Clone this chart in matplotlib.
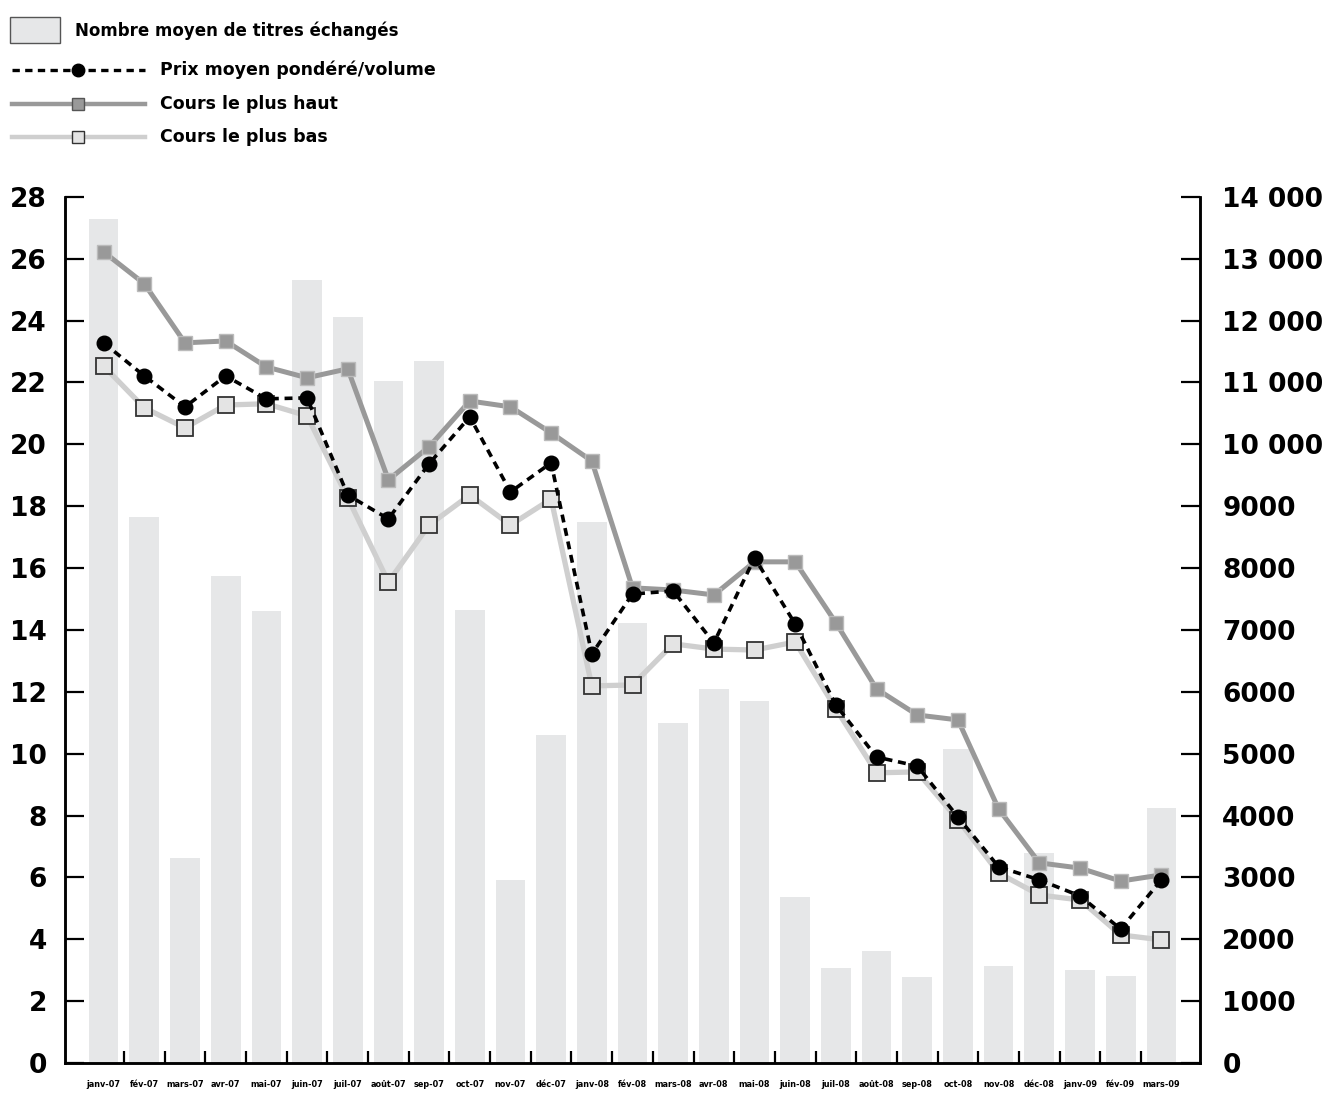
import matplotlib
matplotlib.use("Agg")
import matplotlib.pyplot as plt
from matplotlib.patches import Rectangle
from matplotlib.lines import Line2D

plt.rcParams["font.family"] = ["DejaVu Sans"]

months = ["janv-07", "fév-07", "mars-07", "avr-07", "mai-07", "juin-07", "juil-07",
          "août-07", "sep-07", "oct-07", "nov-07", "déc-07", "janv-08", "fév-08",
          "mars-08", "avr-08", "mai-08", "juin-08", "juil-08", "août-08", "sep-08",
          "oct-08", "nov-08", "déc-08", "janv-09", "fév-09", "mars-09"]

# average number of shares traded (right axis)
volume = [13640, 8830, 3310, 7870, 7310, 12660, 12060, 11020, 11350, 7320, 2960,
          5300, 8750, 7110, 5500, 6050, 5850, 2680, 1540, 1810, 1390, 5080, 1570,
          3390, 1500, 1410, 4120]

# prices (left axis)
vwap = [23.28, 22.21, 21.21, 22.21, 21.47, 21.50, 18.36, 17.59, 19.37, 20.89, 18.46,
        19.40, 13.22, 15.16, 15.26, 13.58, 16.33, 14.19, 11.57, 9.89, 9.60, 7.95,
        6.34, 5.92, 5.40, 4.33, 5.92]
high = [26.22, 25.19, 23.28, 23.34, 22.50, 22.15, 22.44, 18.85, 19.92, 21.40, 21.21,
        20.37, 19.46, 15.36, 15.29, 15.13, 16.20, 16.20, 14.23, 12.09, 11.25, 11.09,
        8.21, 6.47, 6.30, 5.88, 6.08]
low = [22.53, 21.18, 20.53, 21.27, 21.31, 20.92, 18.27, 15.55, 17.39, 18.36, 17.39,
       18.23, 12.19, 12.22, 13.55, 13.38, 13.35, 13.61, 11.45, 9.38, 9.41, 7.86,
       6.14, 5.43, 5.27, 4.14, 3.98]

left_ticks = list(range(0, 29, 2))
right_ticks = list(range(0, 14001, 1000))
right_labels = ["0", "1000", "2000", "3000", "4000", "5000", "6000", "7000", "8000",
                "9000", "10 000", "11 000", "12 000", "13 000", "14 000"]

BAR_C = "#e6e7e8"
HIGH_C = "#999999"
LOW_C = "#cfcfcf"
LOW_FACE = "#e4e4e4"

fig = plt.figure(figsize=(13.26, 11.02), dpi=100)
ax = fig.add_axes([0.049, 0.0354, 0.856, 0.786])
ax2 = ax.twinx()

x = list(range(len(months)))
ax2.bar(x, volume, width=0.73, color=BAR_C, zorder=1)

ax.plot(x, low, color=LOW_C, lw=3.8, marker="s", ms=11, mfc=LOW_FACE, mec="#333333",
        mew=1.3, zorder=3)
ax.plot(x, high, color=HIGH_C, lw=3.6, marker="s", ms=10, mfc=HIGH_C, mec="#bbbbbb",
        mew=1.0, zorder=4)
ax.plot(x, vwap, color="black", lw=2.6, ls=(0, (2.2, 1.6)), marker="o", ms=10.5,
        mfc="black", mec="black", zorder=5)

ax.set_zorder(ax2.get_zorder() + 1)
ax.patch.set_visible(False)

ax.set_xlim(-0.95, 26.95)
ax.set_ylim(0, 28)
ax2.set_ylim(0, 14000)

ax.set_yticks(left_ticks)
ax.set_yticklabels([str(t) for t in left_ticks], fontsize=19, fontweight="bold")
ax.tick_params(axis="y", direction="in", length=14, width=1.6, pad=13)
ax2.set_yticks(right_ticks)
ax2.set_yticklabels(right_labels, fontsize=19, fontweight="bold")
ax2.tick_params(axis="y", direction="in", length=14, width=1.6, pad=16)

ax.set_xticks(x)
ax.set_xticklabels(months, fontsize=5.9, fontweight="bold")
ax.tick_params(axis="x", length=0, pad=12)
ax.set_xticks([i + 0.5 for i in x[:-1]], minor=True)
ax.tick_params(axis="x", which="minor", direction="in", length=9, width=1.6)

for a in (ax, ax2):
    a.spines["top"].set_visible(False)
    for s in ("left", "right", "bottom"):
        a.spines[s].set_linewidth(1.8)
        a.spines[s].set_color("black")

# legend drawn in pixel coordinates at the top left
lg = fig.add_axes([0, 0, 1, 1])
lg.set_xlim(0, 1326)
lg.set_ylim(1102, 0)
lg.axis("off")
lg.add_patch(Rectangle((10, 17), 50, 26, facecolor=BAR_C, edgecolor="#555555", lw=1.0))
lg.text(75, 31, "Nombre moyen de titres échangés", fontsize=12, fontweight="bold",
        va="center", ha="left")
lg.add_line(Line2D([12, 145], [70, 70], color="black", lw=2.4, ls=(0, (2.2, 1.6))))
lg.plot([78], [70], marker="o", ms=9, color="black")
lg.text(160, 70, "Prix moyen pondéré/volume", fontsize=12.5, fontweight="bold",
        va="center", ha="left")
lg.add_line(Line2D([12, 145], [104, 104], color=HIGH_C, lw=3.2))
lg.plot([78], [104], marker="s", ms=9, mfc=HIGH_C, mec="#555555", mew=1.0)
lg.text(160, 104, "Cours le plus haut", fontsize=12.5, fontweight="bold",
        va="center", ha="left")
lg.add_line(Line2D([12, 145], [137, 137], color=LOW_C, lw=3.2))
lg.plot([78], [137], marker="s", ms=9, mfc=LOW_FACE, mec="#333333", mew=1.0)
lg.text(160, 137, "Cours le plus bas", fontsize=12.5, fontweight="bold",
        va="center", ha="left")

fig.savefig("out.png", dpi=100)
